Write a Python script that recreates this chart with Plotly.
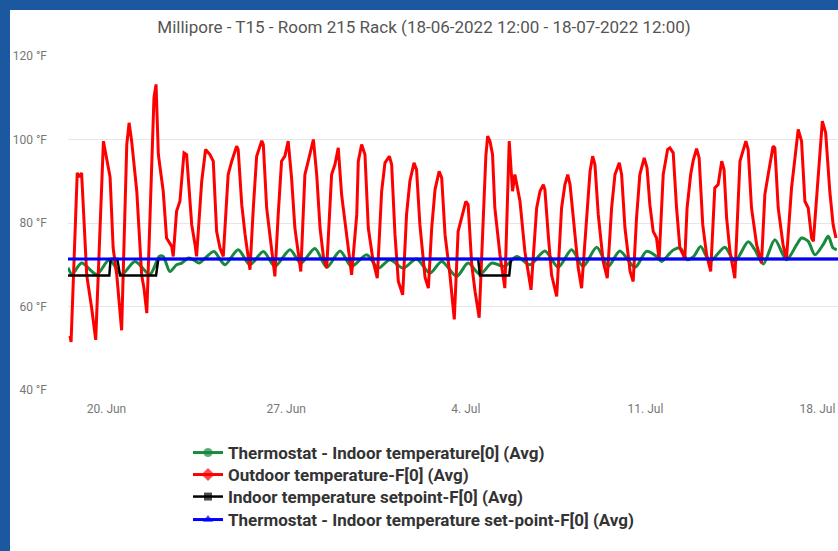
import pandas as pd
import plotly.graph_objects as go

# ---------------- data ----------------
START = "2022-06-18 12:00"
END = "2022-07-18 12:00"

out_days = [0.08,0.12,0.36,0.44,0.53,0.73,0.92,1.08,1.38,1.44,1.64,1.76,1.90,2.09,2.29,2.38,2.48,2.68,2.87,2.96,3.07,3.35,3.43,3.52,3.71,3.84,4.04,4.10,4.23,4.36,4.52,4.62,4.82,4.95,5.01,5.21,5.36,5.53,5.66,5.79,5.92,6.05,6.24,6.38,6.57,6.63,6.77,6.90,7.09,7.22,7.35,7.55,7.61,7.74,7.87,8.06,8.19,8.32,8.45,8.58,8.71,8.84,9.07,9.23,9.36,9.56,9.69,9.82,9.95,10.08,10.27,10.40,10.53,10.66,10.79,11.05,11.25,11.31,11.44,11.57,11.70,11.89,12.05,12.22,12.35,12.52,12.61,12.74,12.87,13.04,13.19,13.32,13.48,13.58,13.71,13.91,14.04,14.17,14.30,14.46,14.56,14.69,14.88,15.05,15.20,15.34,15.50,15.59,15.73,15.86,16.02,16.18,16.28,16.35,16.44,16.54,16.63,16.83,17.02,17.19,17.32,17.41,17.61,17.80,18.04,18.26,18.39,18.52,18.58,18.71,18.84,19.04,19.23,19.36,19.47,19.56,19.75,19.88,20.01,20.21,20.34,20.44,20.53,20.66,20.85,21.01,21.18,21.31,21.48,21.57,21.70,21.90,22.02,22.15,22.28,22.45,22.56,22.67,22.80,22.93,23.03,23.19,23.36,23.45,23.58,23.71,23.84,23.97,24.03,24.12,24.26,24.36,24.49,24.59,24.73,24.88,25.04,25.20,25.33,25.47,25.56,25.66,25.79,25.98,26.18,26.41,26.50,26.63,26.83,27.02,27.15,27.28,27.47,27.54,27.67,27.86,27.99,28.19,28.32,28.45,28.58,28.71,28.84,28.97,29.04,29.23,29.39,29.52,29.68,29.81,29.92]
out_temp = [53,51.5,92,91,92,67.5,59.7,52,99.6,97.5,91,74,67.5,54.3,98.8,104,99.6,87.6,67.5,64.4,58.4,110,113.2,96.4,87.6,76.4,74.4,72,82.8,85.2,96.8,96.4,79.6,74.8,72,90,97.6,96.4,94.8,78,74,72,91.6,94.8,98.4,97.6,84.4,77.2,68.8,83.6,96,99.7,98.8,83.6,77.2,67.2,82,94.8,96,99.6,90.8,78.8,68.4,91.6,94.8,100,91.6,78.8,72,69.2,91.6,94,98,86.8,80.4,67.6,82,94.8,98.8,96.4,78.8,70.8,66.8,87.6,94.4,96,94,77.2,66,62.8,82,90,94.4,92.8,79.6,67,64.4,78.8,88,92.4,90.8,77.2,67.6,56.9,78,81.2,85.2,84.4,70,63.6,57.3,81.2,96,100.8,99.6,96.4,83.6,72.4,64.4,99.6,87.6,91.6,85.2,73.2,64,83.6,87.6,89.2,88,77.2,67.6,62.4,83.6,89.2,91.6,89.2,78,69.2,64.4,81.2,92.4,96,94,82,70.8,66.8,83.6,91.6,94.4,91.6,78.8,68.4,66,81.2,91.6,95.6,93.2,84.4,78,76.4,71.2,91.6,97.6,98,96.8,83.6,74,72.4,71.2,83.6,91.6,95,97.8,95.6,79.6,72.4,68.4,88.4,89.2,94.8,92.8,81.2,73.2,66.8,94.8,99.6,97.6,83.6,74.8,70.4,86.8,91.6,98.4,98,83.6,74.8,71.2,88.4,95.6,102.4,99.6,85.2,83.6,76.4,75.6,91.6,104.4,101.6,87.6,79.6,76.4]

ind_days = [0.0,0.16,0.53,1.12,1.61,2.09,2.61,3.19,3.56,3.71,3.97,4.23,4.43,4.69,4.88,5.11,5.34,5.69,5.89,6.12,6.63,7.09,7.61,8.06,8.65,9.07,9.62,10.08,10.60,11.05,11.64,12.09,12.54,13.06,13.58,14.10,14.56,15.14,15.59,16.05,16.51,17.02,17.48,18.00,18.58,19.10,19.62,20.07,20.60,21.05,21.50,22.09,22.54,22.93,23.13,23.45,23.60,23.86,24.13,24.38,24.65,25.01,25.59,25.98,26.50,26.76,27.09,27.54,27.99,28.39,28.58,28.84,29.10,29.42,29.62,29.81,29.95]
ind_temp = [69.3,67.7,70.4,67.7,71.2,67.7,70.8,67.7,72,72,68.4,70,70.4,71.6,71.2,70.4,71.6,73.2,71.6,70,73.6,70,73.2,69.6,73.6,70.4,73.9,69.4,73.3,69.6,72.4,69.2,71.2,69.2,71.4,68,70.8,67.2,70.4,67.7,70.4,69.6,72,70,73.3,69.4,73.6,69.6,74.2,69.6,73.3,69.4,73.2,72,70.8,72.8,73.6,74,71.2,72,74.4,70.8,74.2,70.8,75.5,73.6,70.2,76,71.2,74.8,76.4,75.6,72.4,74.8,76.8,74,73.6]

sp_days = [0.0,1.61,1.66,1.92,2.03,3.43,3.52,15.98,16.05,17.19,17.26,30.0]
sp_temp = [67.4,67.4,71.4,71.4,67.4,67.4,71.4,71.4,67.4,67.4,71.4,71.4]

tsp_days = [0.0, 30.0]
tsp_temp = [71.4, 71.4]

tick_dates = ["2022-06-20", "2022-06-27", "2022-07-04", "2022-07-11", "2022-07-18"]
tick_labels = ["20. Jun", "27. Jun", "4. Jul", "11. Jul", "18. Jul"]

series_names = [
    "Thermostat - Indoor temperature[0] (Avg)",
    "Outdoor temperature-F[0] (Avg)",
    "Indoor temperature setpoint-F[0] (Avg)",
    "Thermostat - Indoor temperature set-point-F[0] (Avg)",
]
title_text = "Millipore - T15 - Room 215 Rack (18-06-2022 12:00 - 18-07-2022 12:00)"

# ---------------- layout constants ----------------
W, H = 838, 551
L, R, T, B = 68, 0, 56, 161
PW, PH = W - L - R, H - T - B
BG_BLUE = "#1b58a0"
FONT = "Roboto"
LEGEND_ROWS = [453, 475, 497, 520]   # pixel centre of each legend row

t0 = pd.Timestamp(START)


def to_time(days):
    return [t0 + pd.Timedelta(days=d) for d in days]


def legend_marker(n, color, size):
    # first marker carries the legend colour but has size 0; the rest are transparent
    colors = [color] + ["rgba(0,0,0,0)"] * (n - 1)
    sizes = [0] + [size * n / (n - 1)] * (n - 1)
    return dict(color=colors, size=sizes, line=dict(width=0))


def px_x(px):
    return (px - L) / PW


def px_y(py):
    return (H - B - py) / PH


specs = [
    (ind_days, ind_temp, "#178a3c", "circle", 3, "spline", 9),
    (out_days, out_temp, "#ff0000", "diamond", 3, "linear", 10),
    (sp_days, sp_temp, "#000000", "square", 2.5, "linear", 8),
    (tsp_days, tsp_temp, "#0000ff", "triangle-up", 3, "linear", 9),
]

fig = go.Figure()
legend_layouts = {}
for i, ((d, v, col, sym, lw, shape, msz), name) in enumerate(zip(specs, series_names)):
    mk = legend_marker(len(d), col, msz)
    mk["symbol"] = sym
    lname = "legend" if i == 0 else f"legend{i + 1}"
    fig.add_trace(go.Scatter(
        x=to_time(d), y=v, name=name, mode="lines+markers",
        line=dict(color=col, width=lw, shape=shape, smoothing=0.8 if shape == "spline" else None),
        marker=mk, legend=lname,
    ))
    legend_layouts[lname] = dict(
        orientation="v", x=px_x(188), xanchor="left",
        y=px_y(LEGEND_ROWS[i]), yanchor="middle",
        font=dict(family=FONT, size=17, color="#333333", weight=700),
        bgcolor="rgba(0,0,0,0)",
    )

fig.add_shape(type="rect", xref="paper", yref="paper", layer="below",
              x0=px_x(0), x1=px_x(10), y0=px_y(H), y1=px_y(0),
              fillcolor=BG_BLUE, line=dict(width=0))
fig.add_shape(type="rect", xref="paper", yref="paper", layer="below",
              x0=px_x(0), x1=px_x(W), y0=px_y(10), y1=px_y(0),
              fillcolor=BG_BLUE, line=dict(width=0))

fig.update_layout(
    width=W, height=H, autosize=False,
    margin=dict(l=L, r=R, t=T, b=B, pad=0, autoexpand=False),
    paper_bgcolor="white", plot_bgcolor="white",
    font=dict(family=FONT),
    title=dict(text=title_text, x=424 / W, xref="container", xanchor="center",
               y=1 - 27 / H, yref="container", yanchor="middle",
               font=dict(family=FONT, size=17, color="#555555")),
    showlegend=True,
    hovermode="x",
    **legend_layouts,
)

# last label is padded so that it sits inside the card, like the original
shown_labels = tick_labels[:-1] + ["\u2009" + tick_labels[-1] + "\u00a0" * 6]
fig.update_xaxes(
    type="date", range=[START, END], automargin=False,
    tickmode="array", tickvals=tick_dates, ticktext=shown_labels,
    ticklabeloverflow="allow",
    showgrid=False, zeroline=False, showline=False, ticks="",
    ticklabelstandoff=10,
    tickfont=dict(family=FONT, size=12, color="#777777"),
)
fig.update_yaxes(
    range=[40, 120], dtick=20, ticksuffix=" °F", automargin=False,
    showgrid=True, gridcolor="#e6e6e6", gridwidth=1,
    zeroline=False, showline=False, ticks="",
    ticklabelstandoff=20,
    tickfont=dict(family=FONT, size=12, color="#777777"),
)

fig.write_html(
    "out.html",
    config={"displayModeBar": False},
    post_script="document.body.style.margin='0';document.body.style.padding='0';"
                "document.body.style.overflow='hidden';",
)
